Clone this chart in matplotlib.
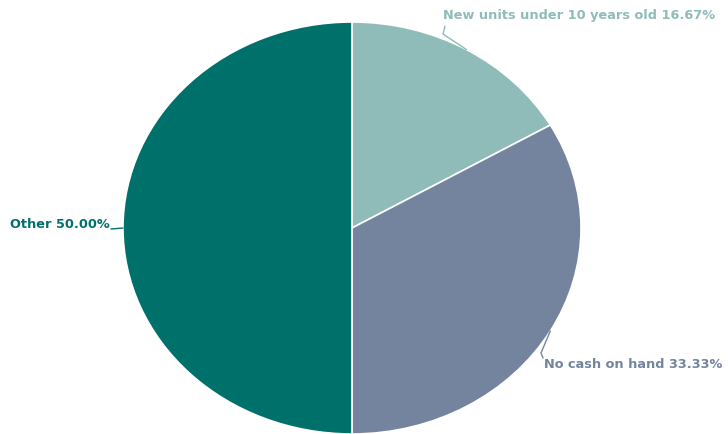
import numpy as np
import matplotlib
matplotlib.use("Agg")
import matplotlib.pyplot as plt

labels = ["New units under 10 years old", "No cash on hand", "Other"]
values = [16.67, 33.33, 50.00]
colors = ["#8fbcb8", "#74849e", "#00706a"]

W, H = 728, 434
fig = plt.figure(figsize=(W / 100, H / 100), dpi=100)
ax = fig.add_axes([0, 0, 1, 1])

cx, cy, rx, ry = 352, 228, 229, 206  # pixel layout of pie ellipse


def px(x, y):
    return ((x - cx) / rx, (cy - y) / ry)


wedges, _ = ax.pie(values, colors=colors, startangle=90, counterclock=False,
                   radius=1, center=(0, 0),
                   wedgeprops=dict(edgecolor="white", linewidth=1.2))
ax.set_aspect("auto")
ax.set_xlim(px(0, 0)[0], px(W, 0)[0])
ax.set_ylim(px(0, H)[1], px(0, 0)[1])
ax.axis("off")

# label layout: (leader pixel path after anchor, text pixel, ha)
layout = [
    ([(443, 34), (445, 26)], (443, 16), "left"),
    ([(541, 353), (543, 358)], (544, 365), "left"),
    ([(111, 229)], (110, 224), "right"),
]

for w, lab, val, col, (path, tpos, ha) in zip(wedges, labels, values, colors, layout):
    mid = np.deg2rad((w.theta1 + w.theta2) / 2)
    lx = [np.cos(mid)] + [px(*p)[0] for p in path]
    ly = [np.sin(mid)] + [px(*p)[1] for p in path]
    ax.plot(lx, ly, color=col, lw=1.0, solid_capstyle="round", zorder=3)
    tx, ty = px(*tpos)
    ax.text(tx, ty, f"{lab} {val:.2f}%", ha=ha, va="center", color=col,
            fontsize=9.3, fontweight="bold", family=["DejaVu Sans"],
            zorder=4)

fig.savefig("out.png", dpi=100)
